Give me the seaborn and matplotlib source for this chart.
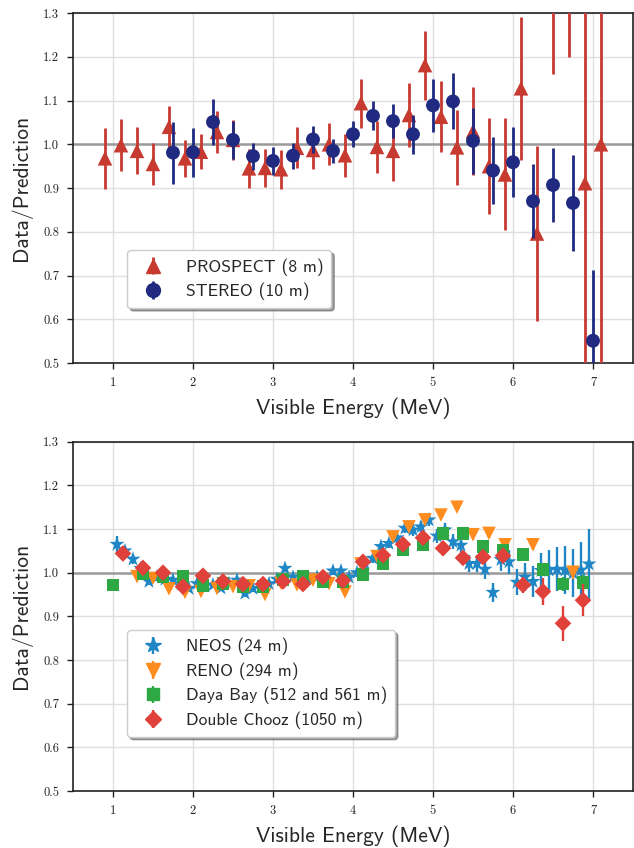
import numpy as np
import matplotlib
matplotlib.use("Agg")
import matplotlib.pyplot as plt
import seaborn as sns
import pandas as pd

# ---------------- data: top panel ----------------
prospect_x = [0.9, 1.1, 1.3, 1.5, 1.7, 1.9, 2.1, 2.3, 2.5, 2.7, 2.9, 3.1, 3.3, 3.5, 3.7, 3.9,
              4.1, 4.3, 4.5, 4.7, 4.9, 5.1, 5.3, 5.5, 5.7, 5.9, 6.1, 6.3, 6.5, 6.7, 6.9, 7.1]
prospect_y = [0.968, 0.998, 0.985, 0.955, 1.040, 0.968, 0.983, 1.028, 1.010, 0.945, 0.946, 0.943,
              0.992, 0.987, 1.000, 0.975, 1.094, 0.994, 0.985, 1.067, 1.181, 1.063, 0.993, 1.030,
              0.950, 0.931, 1.128, 0.796, 1.36, 1.45, 0.911, 1.000]
prospect_err = [0.070, 0.060, 0.054, 0.048, 0.048, 0.042, 0.040, 0.047, 0.045, 0.045, 0.044, 0.045,
                0.047, 0.044, 0.048, 0.049, 0.056, 0.060, 0.069, 0.074, 0.079, 0.081, 0.085, 0.100,
                0.110, 0.128, 0.163, 0.200, 0.200, 0.250, 0.450, 0.550]

stereo_x = [1.75, 2.0, 2.25, 2.5, 2.75, 3.0, 3.25, 3.5, 3.75, 4.0, 4.25, 4.5, 4.75, 5.0, 5.25,
            5.5, 5.75, 6.0, 6.25, 6.5, 6.75, 7.0]
stereo_y = [0.981, 0.982, 1.051, 1.010, 0.973, 0.962, 0.974, 1.011, 0.985, 1.023, 1.065, 1.053,
            1.023, 1.089, 1.098, 1.008, 0.940, 0.959, 0.870, 0.907, 0.866, 0.551]
stereo_err = [0.071, 0.056, 0.052, 0.044, 0.031, 0.032, 0.030, 0.030, 0.028, 0.030, 0.033, 0.038,
              0.045, 0.060, 0.064, 0.075, 0.076, 0.080, 0.084, 0.085, 0.109, 0.162]

# ---------------- data: bottom panel ----------------
neos_x = [1.05, 1.15, 1.25, 1.35, 1.45, 1.55, 1.65, 1.75, 1.85, 1.95, 2.05, 2.15, 2.25, 2.35, 2.45,
          2.55, 2.65, 2.75, 2.85, 2.95, 3.05, 3.15, 3.25, 3.35, 3.45, 3.55, 3.65, 3.75, 3.85, 3.95,
          4.05, 4.15, 4.25, 4.35, 4.45, 4.55, 4.65, 4.75, 4.85, 4.95, 5.05, 5.15, 5.25, 5.35, 5.45,
          5.55, 5.65, 5.75, 5.85, 5.95, 6.05, 6.15, 6.25, 6.35, 6.45, 6.55, 6.65, 6.75, 6.85, 6.95]
neos_y = [1.065, 1.050, 1.031, 1.010, 0.980, 0.990, 0.985, 0.983, 0.975, 0.964, 0.975, 0.970, 0.972,
          0.965, 0.975, 0.983, 0.953, 0.964, 0.970, 0.975, 0.985, 1.010, 0.990, 0.980, 0.985, 0.990,
          0.980, 1.004, 1.004, 0.990, 1.000, 1.021, 1.033, 1.060, 1.067, 1.080, 1.102, 1.098, 1.105,
          1.121, 1.084, 1.098, 1.071, 1.063, 1.021, 1.021, 1.008, 0.955, 1.030, 1.025, 0.978, 0.990,
          0.980, 1.005, 1.006, 1.008, 1.006, 0.999, 1.006, 1.020]
neos_err = [0.020, 0.012, 0.010, 0.008, 0.008, 0.008, 0.008, 0.008, 0.008, 0.008, 0.008, 0.008, 0.008,
            0.008, 0.008, 0.008, 0.008, 0.008, 0.008, 0.008, 0.008, 0.008, 0.008, 0.008, 0.008, 0.008,
            0.009, 0.009, 0.009, 0.009, 0.010, 0.010, 0.010, 0.011, 0.011, 0.012, 0.012, 0.013, 0.013,
            0.014, 0.015, 0.016, 0.017, 0.018, 0.020, 0.020, 0.022, 0.022, 0.025, 0.028, 0.030, 0.032,
            0.035, 0.040, 0.045, 0.050, 0.055, 0.055, 0.065, 0.080]

reno_x = [1.3, 1.5, 1.7, 1.9, 2.1, 2.3, 2.5, 2.7, 2.9, 3.1, 3.3, 3.5, 3.7, 3.9, 4.1, 4.3, 4.5,
          4.7, 4.9, 5.1, 5.3, 5.5, 5.7, 5.9, 6.25, 6.75]
reno_y = [0.991, 0.987, 0.963, 0.955, 0.957, 0.964, 0.968, 0.970, 0.950, 0.976, 0.972, 0.983, 0.975,
          0.956, 1.020, 1.037, 1.082, 1.105, 1.121, 1.132, 1.150, 1.087, 1.090, 1.064, 1.064, 1.001]
reno_err = [0.006, 0.006, 0.006, 0.006, 0.006, 0.006, 0.006, 0.006, 0.006, 0.006, 0.006, 0.006, 0.006,
            0.006, 0.007, 0.007, 0.008, 0.008, 0.008, 0.009, 0.009, 0.010, 0.011, 0.012, 0.012, 0.015]

dayabay_x = [1.0, 1.375, 1.625, 1.875, 2.125, 2.375, 2.625, 2.875, 3.125, 3.375, 3.625, 3.875, 4.125,
             4.375, 4.625, 4.875, 5.125, 5.375, 5.625, 5.875, 6.125, 6.375, 6.625, 6.875]
dayabay_y = [0.972, 0.998, 0.990, 0.991, 0.970, 0.976, 0.968, 0.968, 0.985, 0.991, 0.979, 0.980, 0.995,
             1.021, 1.054, 1.065, 1.089, 1.090, 1.060, 1.050, 1.041, 1.008, 0.974, 0.977]
dayabay_err = [0.006, 0.005, 0.005, 0.005, 0.005, 0.005, 0.005, 0.005, 0.005, 0.005, 0.005, 0.005,
               0.006, 0.006, 0.006, 0.007, 0.007, 0.008, 0.009, 0.010, 0.012, 0.014, 0.016, 0.018]

dc_x = [1.125, 1.375, 1.625, 1.875, 2.125, 2.375, 2.625, 2.875, 3.125, 3.375, 3.625, 3.875, 4.125,
        4.375, 4.625, 4.875, 5.125, 5.375, 5.625, 5.875, 6.125, 6.375, 6.625, 6.875]
dc_y = [1.044, 1.011, 1.000, 0.968, 0.993, 0.980, 0.974, 0.974, 0.980, 0.974, 0.990, 0.982, 1.025,
        1.040, 1.065, 1.080, 1.056, 1.034, 1.036, 1.039, 0.972, 0.957, 0.884, 0.937]
dc_err = [0.010, 0.008, 0.008, 0.008, 0.008, 0.008, 0.008, 0.008, 0.008, 0.008, 0.008, 0.008, 0.009,
          0.009, 0.010, 0.010, 0.011, 0.012, 0.013, 0.015, 0.018, 0.032, 0.040, 0.036]

x_ticks = [1, 2, 3, 4, 5, 6, 7]
y_ticks = [0.5, 0.6, 0.7, 0.8, 0.9, 1.0, 1.1, 1.2, 1.3]
x_label = "Visible Energy (MeV)"
y_label = "Data/Prediction"

# ---------------- style ----------------
sns.set_theme(style="ticks")
plt.rcParams["font.family"] = ["cmss10", "DejaVu Sans"]
plt.rcParams["axes.formatter.use_mathtext"] = True

fig = plt.figure(figsize=(6.34, 8.48), dpi=100)
ax_top = fig.add_axes([0.1151, 0.5719, 0.8833, 0.4127])
ax_bot = fig.add_axes([0.1151, 0.0672, 0.8833, 0.4119])

GRID = "#e0e0e0"


def setup(ax):
    ax.set_xticks(x_ticks)
    ax.set_yticks(y_ticks)
    ax.set_xticklabels([str(t) for t in x_ticks], fontfamily="cmr10", fontsize=9)
    ax.set_yticklabels(["%.1f" % t for t in y_ticks], fontfamily="cmr10", fontsize=9)
    ax.grid(True, color=GRID, lw=1.0)
    ax.set_axisbelow(True)
    for s in ax.spines.values():
        s.set_visible(True)
        s.set_color("#222222")
        s.set_linewidth(1.2)
    ax.tick_params(direction="out", length=4, width=1, colors="#222222", pad=6)
    ax.axhline(1.0, color="#9a9a9a", lw=1.8, zorder=1)


setup(ax_top)
setup(ax_bot)


def series(ax, x, y, err, color, marker, size, label, elw, cap_z):
    df = pd.DataFrame({"x": x, "y": y})
    ax.errorbar(x, y, yerr=err, fmt="none", ecolor=color, elinewidth=elw, capsize=0, zorder=cap_z)
    sns.scatterplot(data=df, x="x", y="y", ax=ax, marker=marker, s=size, color=color,
                    edgecolor="none", linewidth=0, zorder=cap_z + 0.5, legend=False)
    h = ax.errorbar([], [], yerr=[], fmt=marker, color=color, ecolor=color, elinewidth=elw,
                    markersize=np.sqrt(size), label=label)
    return h


RED = "#c73a30"
NAVY = "#1f2a80"
h1 = series(ax_top, prospect_x, prospect_y, prospect_err, RED, "^", 110, "PROSPECT (8 m)", 2.0, 3)
h2 = series(ax_top, stereo_x, stereo_y, stereo_err, NAVY, "o", 100, "STEREO (10 m)", 2.0, 4)

BLUE = "#1f87c6"
ORANGE = "#ff8c1e"
GREEN = "#2ea843"
DRED = "#e0413a"
g1 = series(ax_bot, neos_x, neos_y, neos_err, BLUE, "*", 130, "NEOS (24 m)", 1.7, 3)
g2 = series(ax_bot, reno_x, reno_y, reno_err, ORANGE, "v", 95, "RENO (294 m)", 1.7, 4)
g3 = series(ax_bot, dayabay_x, dayabay_y, dayabay_err, GREEN, "s", 85, "Daya Bay (512 and 561 m)", 1.7, 5)
g4 = series(ax_bot, dc_x, dc_y, dc_err, DRED, "D", 72, "Double Chooz (1050 m)", 1.7, 6)

for ax in (ax_top, ax_bot):
    ax.set_xlim(0.5, 7.5)
    ax.set_ylim(0.5, 1.3)
    ax.set_xlabel(x_label, fontsize=15.5, labelpad=6)
    ax.set_ylabel(y_label, fontsize=15.5, labelpad=8)

leg_kw = dict(loc="lower left", borderaxespad=0, frameon=True, fancybox=True, shadow=True,
              fontsize=12.6, handletextpad=0.9, borderpad=0.45, labelspacing=0.4)
lt = ax_top.legend(handles=[h1, h2], bbox_to_anchor=(0.097, 0.157), **leg_kw)
lb = ax_bot.legend(handles=[g1, g2, g3, g4], bbox_to_anchor=(0.097, 0.155), **leg_kw)
for lg in (lt, lb):
    lg.get_frame().set_edgecolor("#cccccc")
    lg.get_frame().set_facecolor("white")
    lg.get_frame().set_alpha(1.0)

fig.savefig("out.png", dpi=100)
